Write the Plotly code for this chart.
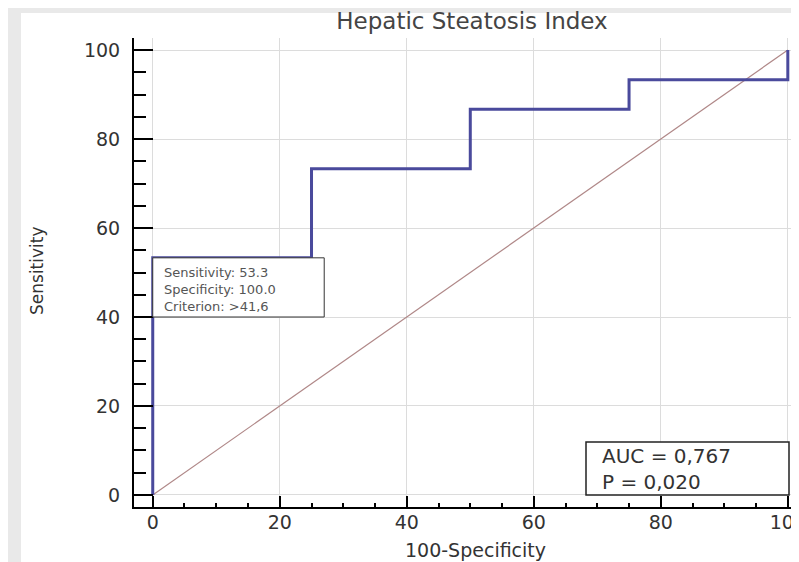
import plotly.graph_objects as go

# ROC curve (step points, in %)
fpr = [0, 0, 25, 50, 75, 100]          # 100 - Specificity
tpr = [0, 53.3, 73.3, 86.7, 93.3, 100]  # Sensitivity
diag = [0, 100]

tick_vals = [0, 20, 40, 60, 80, 100]
tick_text = ["0", "20", "40", "60", "80", "100"]

crit_x, crit_y = 0, 53.3
crit_lines = ["Sensitivity: 53.3", "Specificity: 100.0", "Criterion: >41,6"]
auc_lines = ["AUC = 0,767", "P = 0,020"]

# page is offset by the default 8px body margin; visible width ends near x=791
OFF = 8
W, H = 791 - OFF, 562 - OFF
L, R, T = 134 - OFF, 0, 38 - OFF
B = H - (507 - OFF)
PW, PH = W - L - R, H - T - B

def px_x(p):   # page pixel -> paper x
    return (p - OFF - L) / PW

def px_y(p):   # page pixel -> paper y
    return (H - B - (p - OFF)) / PH

FONT = "DejaVu Sans"

fig = go.Figure()
fig.add_trace(go.Scatter(x=diag, y=diag, mode="lines",
                         line=dict(color="#b08888", width=1.2), hoverinfo="skip"))
fig.add_trace(go.Scatter(x=fpr, y=tpr, mode="lines", line_shape="hv",
                         line=dict(color="#4a4a9c", width=3)))

axis_common = dict(
    tickvals=tick_vals, ticktext=tick_text,
    showgrid=True, gridcolor="#dcdcdc", gridwidth=1,
    zeroline=False, showline=True, linecolor="black", linewidth=2,
    ticks="inside", tickcolor="black", tickwidth=2,
    tickfont=dict(family=FONT, size=19, color="#333"),
    ticklabeloverflow="allow", automargin=False,
)
fig.update_xaxes(range=[-2.95, 100.5], ticklen=11,
                 minor=dict(dtick=5, ticks="inside", ticklen=4, tickcolor="black",
                            tickwidth=1.5, showgrid=False),
                 ticklabelstandoff=-3, **axis_common)
fig.update_yaxes(range=[-2.7, 102.7], ticklen=19,
                 minor=dict(dtick=5, ticks="inside", ticklen=12, tickcolor="black",
                            tickwidth=1.5, showgrid=False),
                 ticklabelstandoff=8, **axis_common)

shapes = [
    # white page area over the grey border
    dict(type="rect", xref="paper", yref="paper", layer="below",
         x0=px_x(21), x1=px_x(820), y0=px_y(580), y1=px_y(13),
         fillcolor="white", line=dict(width=0)),
    # criterion box
    dict(type="rect", xref="x", yref="y", layer="above",
         x0=crit_x, x1=crit_x + 27, y0=crit_y - 13.3, y1=crit_y,
         fillcolor="white", line=dict(color="#333", width=1)),
    # AUC box
    dict(type="rect", xref="paper", yref="y", layer="above",
         x0=px_x(586), x1=px_x(789), y0=0, y1=11.9,
         fillcolor="white", line=dict(color="#222", width=1.5)),
]

annotations = [
    dict(text="<br>".join(crit_lines), xref="x", yref="y",
         x=crit_x, y=crit_y - 6.65, xanchor="left", yanchor="middle",
         xshift=9, yshift=-2, align="left", showarrow=False,
         font=dict(family=FONT, size=13, color="#555")),
    dict(text="<br>".join(auc_lines), xref="paper", yref="y",
         x=px_x(586), y=5.95, xanchor="left", yanchor="middle",
         xshift=14, align="left", showarrow=False,
         font=dict(family=FONT, size=20, color="#333")),
    dict(text="100-Specificity", xref="paper", yref="paper",
         x=px_x(475), y=px_y(550), xanchor="center", yanchor="middle",
         showarrow=False, font=dict(family=FONT, size=19, color="#333")),
    dict(text="Sensitivity", xref="paper", yref="paper", textangle=-90,
         x=px_x(37), y=px_y(271), xanchor="center", yanchor="middle",
         showarrow=False, font=dict(family=FONT, size=17, color="#333")),
]

fig.update_layout(
    width=W, height=H,
    margin=dict(l=L, r=R, t=T, b=B, pad=0, autoexpand=False),
    paper_bgcolor="#e9e9e9", plot_bgcolor="white",
    showlegend=False,
    title=dict(text="Hepatic Steatosis Index", x=px_x(472), xanchor="center",
               xref="paper", y=1 - (21 - OFF) / H, yref="container", yanchor="middle",
               font=dict(family=FONT, size=23, color="#444")),
    shapes=shapes, annotations=annotations,
)

fig.write_html("out.html")
